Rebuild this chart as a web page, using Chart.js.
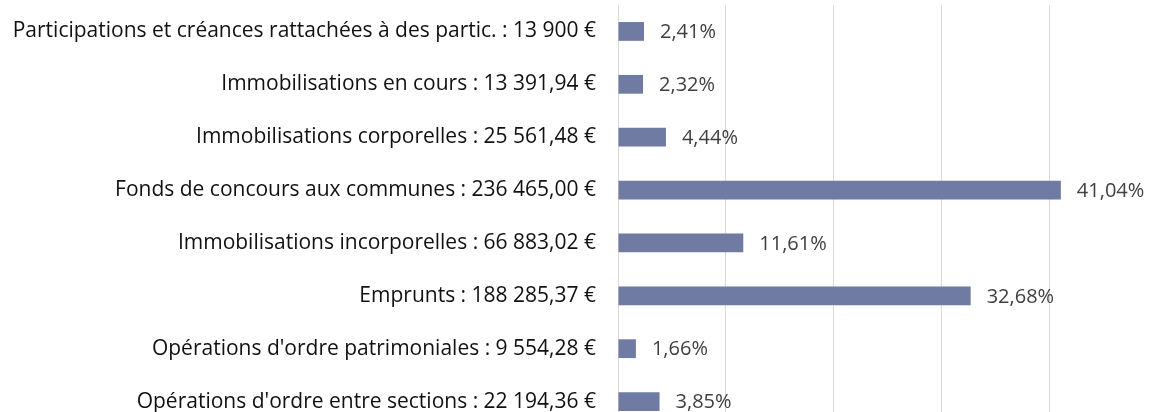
<!DOCTYPE html>
<html>
<head>
<meta charset="utf-8">
<script src="https://cdn.jsdelivr.net/npm/chart.js@4"></script>
<style>
  html, body { margin: 0; padding: 0; background: #ffffff; overflow: hidden; }
  canvas { display: block; }
</style>
</head>
<body>
<canvas id="c" width="1150" height="428"></canvas>
<script>
const names = [
  "Participations et créances rattachées à des partic.",
  "Immobilisations en cours",
  "Immobilisations corporelles",
  "Fonds de concours aux communes",
  "Immobilisations incorporelles",
  "Emprunts",
  "Opérations d'ordre patrimoniales",
  "Opérations d'ordre entre sections"
];
const amounts = [
  "13 900 €",
  "13 391,94 €",
  "25 561,48 €",
  "236 465,00 €",
  "66 883,02 €",
  "188 285,37 €",
  "9 554,28 €",
  "22 194,36 €"
];
const percents = [2.41, 2.32, 4.44, 41.04, 11.61, 32.68, 1.66, 3.85];
const gridSteps = [0, 10, 20, 30, 40];

const categories = names.map((n, i) => n + " : " + amounts[i]);
const FONT = "'Open Sans'";

const valueLabels = {
  id: 'valueLabels',
  afterDatasetsDraw(chart) {
    const ctx = chart.ctx;
    const meta = chart.getDatasetMeta(0);
    ctx.save();
    ctx.font = "20px " + FONT;
    ctx.fillStyle = "#404040";
    ctx.textBaseline = "middle";
    ctx.textAlign = "left";
    meta.data.forEach((bar, i) => {
      const txt = percents[i].toFixed(2).replace('.', ',') + '%';
      ctx.fillText(txt, bar.x + 16, bar.y + 1);
    });
    ctx.restore();
  }
};

new Chart(document.getElementById('c'), {
  type: 'bar',
  data: {
    labels: categories,
    datasets: [{
      data: percents,
      backgroundColor: '#6F7BA2',
      borderWidth: 0,
      barPercentage: 0.355,
      categoryPercentage: 1.0
    }]
  },
  options: {
    indexAxis: 'y',
    responsive: false,
    animation: false,
    layout: { padding: { top: 5, right: 0, bottom: 0, left: 0 } },
    plugins: { legend: { display: false }, tooltip: { enabled: false } },
    scales: {
      x: {
        min: 0,
        max: 49.3,
        afterBuildTicks: (axis) => { axis.ticks = gridSteps.map(v => ({ value: v })); },
        afterFit: (scale) => { scale.height = 0; scale.paddingLeft = 0; scale.paddingRight = 0; },
        ticks: { display: false },
        grid: { color: '#D9D9D9', lineWidth: 1, drawTicks: false },
        border: { display: false }
      },
      y: {
        afterFit: (scale) => { scale.width = 618; scale.paddingTop = 0; scale.paddingBottom = 0; },
        ticks: {
          color: '#111111',
          font: { family: FONT, size: 21 },
          padding: 22
        },
        grid: { display: false, drawTicks: false },
        border: { display: false }
      }
    }
  },
  plugins: [valueLabels]
});
</script>
</body>
</html>
